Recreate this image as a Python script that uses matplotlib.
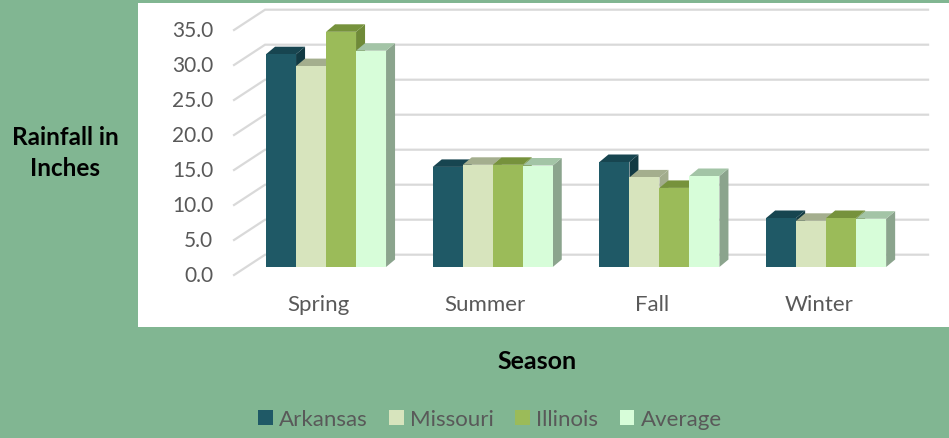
import numpy as np
import matplotlib
matplotlib.use("Agg")
import matplotlib.pyplot as plt
from matplotlib.patches import Polygon, Rectangle, Patch

# data
seasons = ["Spring", "Summer", "Fall", "Winter"]
series = ["Arkansas", "Missouri", "Illinois", "Average"]
arkansas = [30.4, 14.3, 15.0, 7.0]
missouri = [28.7, 14.6, 12.8, 6.6]
illinois = [33.6, 14.6, 11.3, 7.0]
average = [30.9, 14.5, 13.0, 6.9]
yticks = [0, 5, 10, 15, 20, 25, 30, 35]

values = [arkansas, missouri, illinois, average]
front_cols = ["#1F5966", "#D7E4BD", "#9BBB59", "#D7FDD9"]
top_cols = ["#174550", "#A4AE8E", "#76923C", "#A3C4A6"]
side_cols = ["#123A43", "#A2AC8C", "#6F8A38", "#8BA48D"]

bg = "#81B692"
txt = "#595959"
font = "Lato"

W, H = 949, 439
fig = plt.figure(figsize=(W / 100, H / 100), dpi=100, facecolor=bg)

# white chart area
fig.patches.append(Rectangle((138 / W, 1 - 328 / H), 811 / W, 324 / H,
                             transform=fig.transFigure, facecolor="white",
                             edgecolor="none", zorder=-5))

# axes = plane of the bar fronts (px: x=-0.5 at 242.7, y=0 at 268 from top)
px_x = 166.7  # px per category
px_y = 7.0    # px per inch
ax = fig.add_axes([242.7 / W, (H - 268) / H, 4 * px_x / W, 35 * px_y / H])
ax.set_xlim(-0.5, 3.5)
ax.set_ylim(0, 35)
ax.axis("off")
ax.patch.set_alpha(0)

# walls: front-left, back-left, back-right
x_fl, x_bl, x_br = (234 - 326) / px_x, (265 - 326) / px_x, (928 - 326) / px_x
dy_front, dy_back = -8 / px_y, 12.3 / px_y
for v in yticks:
    ax.plot([x_fl, x_bl, x_br], [v + dy_front, v + dy_back, v + dy_back],
            color="#D9D9D9", lw=1.6, clip_on=False, zorder=1,
            solid_joinstyle="miter")
    ax.text((213 - 326) / px_x, v + dy_front, f"{v:.1f}", ha="right",
            va="center", fontsize=15, color=txt, family=font)

# 3d bars
bw = 30 / px_x
ddx, ddy = 9 / px_x, 7.5 / px_y
x = np.arange(len(seasons))
for i in range(len(seasons)):
    for j, vals in enumerate(values):
        x0 = x[i] - 2 * bw + j * bw
        x1 = x0 + bw
        h = vals[i]
        z = 2 + i * 10 + j
        ax.add_patch(Polygon([(x1, 0), (x1 + ddx, ddy), (x1 + ddx, h + ddy), (x1, h)],
                             closed=True, facecolor=side_cols[j], edgecolor="none",
                             zorder=z, clip_on=False))
        ax.add_patch(Polygon([(x0, h), (x0 + ddx, h + ddy), (x1 + ddx, h + ddy), (x1, h)],
                             closed=True, facecolor=top_cols[j], edgecolor="none",
                             zorder=z, clip_on=False))
        ax.bar(x0, h, width=bw, align="edge", color=front_cols[j],
               edgecolor="none", zorder=z + 0.5, clip_on=False)

for i, s in enumerate(seasons):
    ax.text(x[i] - 0.045, (268 - 305) / px_y, s, ha="center", va="center",
            fontsize=16, color=txt, family=font)

fig.text(65 / W, 1 - 153 / H, "Rainfall in\nInches", ha="center", va="center",
         fontsize=17.5, fontweight="bold", color="black", family=font,
         linespacing=1.45)
fig.text(537 / W, 1 - 362 / H, "Season", ha="center", va="center",
         fontsize=18, fontweight="bold", color="black", family=font)

handles = [Patch(facecolor=c, edgecolor="none") for c in front_cols]
leg = fig.legend(handles, series, loc="center", bbox_to_anchor=(490 / W, 1 - 420 / H),
                 ncol=4, frameon=False, handlelength=0.65, handleheight=0.65,
                 handletextpad=0.3, columnspacing=0.95,
                 prop={"family": font, "size": 16})
for t in leg.get_texts():
    t.set_color(txt)

fig.savefig("out.png", dpi=100, facecolor=bg)
